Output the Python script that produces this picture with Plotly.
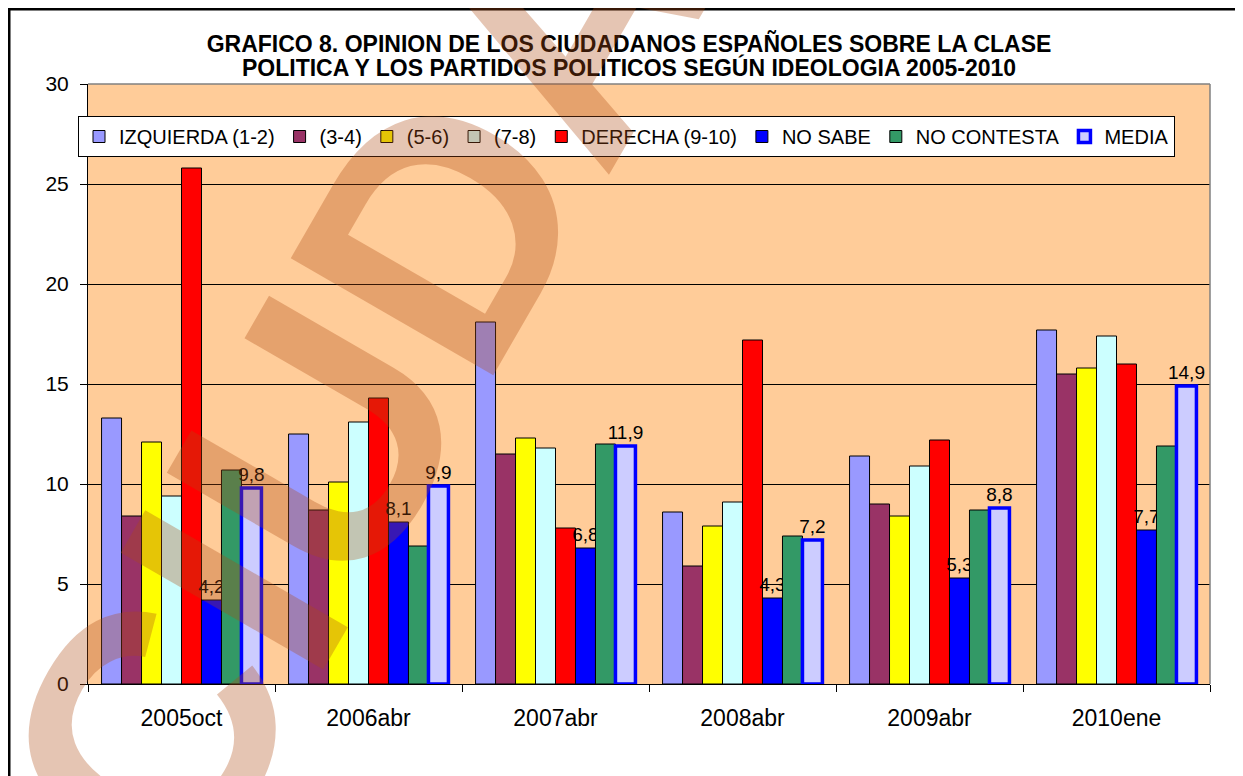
import plotly.graph_objects as go

# ---------------- data ----------------
categories = ["2005oct", "2006abr", "2007abr", "2008abr", "2009abr", "2010ene"]
izquierda = [13.3, 12.5, 18.1, 8.6, 11.4, 17.7]
s_3_4 = [8.4, 8.7, 11.5, 5.9, 9.0, 15.5]
s_5_6 = [12.1, 10.1, 12.3, 7.9, 8.4, 15.8]
s_7_8 = [9.4, 13.1, 11.8, 9.1, 10.9, 17.4]
derecha = [25.8, 14.3, 7.8, 17.2, 12.2, 16.0]
no_sabe = [4.2, 8.1, 6.8, 4.3, 5.3, 7.7]
no_contesta = [10.7, 6.9, 12.0, 7.4, 8.7, 11.9]
media = [9.8, 9.9, 11.9, 7.2, 8.8, 14.9]

series_names = ["IZQUIERDA (1-2)", "(3-4)", "(5-6)", "(7-8)", "DERECHA (9-10)",
                "NO SABE", "NO CONTESTA", "MEDIA"]
y_ticks = [0, 5, 10, 15, 20, 25, 30]

title_line1 = "GRAFICO 8. OPINION DE LOS CIUDADANOS ESPAÑOLES SOBRE LA CLASE"
title_line2 = "POLITICA Y LOS PARTIDOS POLITICOS SEGÚN IDEOLOGIA 2005-2010"

# ---------------- geometry (page has an 8px body margin) ----------------
FONT = "Liberation Sans, Arial, sans-serif"
OFF = 8
W, H = 1243 - OFF, 776 - OFF
PLOT_L, PLOT_R, PLOT_T, PLOT_B = 88, 1210, 84, 684   # in screenshot pixels
L, T = PLOT_L - OFF, PLOT_T - OFF
R, B = W - (PLOT_R - OFF), H - (PLOT_B - OFF)
PW, PH = PLOT_R - PLOT_L, PLOT_B - PLOT_T


def px_x(px):
    """screenshot x pixel -> paper fraction"""
    return (px - PLOT_L) / PW


def px_y(py):
    """screenshot y pixel -> paper fraction"""
    return (PLOT_B - py) / PH


styles = [
    dict(color="#9999FF", line=dict(color="black", width=1)),
    dict(color="#993366", line=dict(color="black", width=1)),
    dict(color="#FFFF00", line=dict(color="black", width=1)),
    dict(color="#CCFFFF", line=dict(color="black", width=1)),
    dict(color="#FF0000", line=dict(color="black", width=1)),
    dict(color="#0000FF", line=dict(color="black", width=1)),
    dict(color="#339966", line=dict(color="black", width=1)),
    dict(color="#CCCCFF", line=dict(color="#0000FF", width=3.5)),
]
all_values = [izquierda, s_3_4, s_5_6, s_7_8, derecha, no_sabe, no_contesta, media]
labelled = {"NO SABE", "MEDIA"}

fig = go.Figure()
for name, vals, st in zip(series_names, all_values, styles):
    kw = {}
    if name in labelled:
        kw = dict(texttemplate="%{y:.1f}", textposition="outside",
                  textfont=dict(family=FONT, size=19, color="black"),
                  constraintext="none", cliponaxis=False)
    fig.add_trace(go.Bar(name=name, x=categories, y=vals, marker=st, **kw))

title_font = dict(family=FONT, size=23, color="black")
fig.update_layout(
    width=W, height=H,
    margin=dict(l=L, r=R, t=T, b=B, autoexpand=False),
    paper_bgcolor="white",
    plot_bgcolor="#FFCC99",
    barmode="group",
    bargap=0.145,
    bargroupgap=0,
    separators=",.",
    font=dict(family=FONT, color="black"),
    title=dict(text="<b>" + title_line1 + "</b>", x=px_x(629), xref="paper",
               xanchor="center", y=1 - (43.5 - OFF) / H, yref="container", yanchor="middle",
               font=title_font),
    legend=dict(orientation="h", x=px_x(626.5), xanchor="center", y=px_y(116), yanchor="top",
                bgcolor="white", bordercolor="black", borderwidth=1,
                font=dict(family=FONT, size=20, color="black"),
                itemwidth=30, traceorder="normal"),
    showlegend=True,
)

fig.add_annotation(text="<b>" + title_line2 + "</b>", xref="paper", yref="paper",
                   x=px_x(629), y=px_y(67), xanchor="center", yanchor="middle",
                   showarrow=False, font=title_font)

fig.update_xaxes(
    type="category", showline=True, linecolor="black", linewidth=1,
    ticks="outside", ticklen=7, tickcolor="black", tickson="boundaries",
    tickfont=dict(family=FONT, size=23, color="black"),
    ticklabelstandoff=13, showgrid=False, zeroline=False,
)
fig.update_yaxes(
    range=[0, 30], tickvals=y_ticks, showline=True, linecolor="black", linewidth=1,
    ticks="outside", ticklen=7, tickcolor="black",
    tickfont=dict(family=FONT, size=21, color="black"),
    ticklabelstandoff=7,
    showgrid=True, gridcolor="black", gridwidth=1, zeroline=False,
)

# plot-area border (top/right in gray) and outer frame
fig.add_shape(type="line", xref="paper", yref="paper", x0=0, x1=1, y0=1, y1=1,
              line=dict(color="#808080", width=1.5))
fig.add_shape(type="line", xref="paper", yref="paper", x0=1, x1=1, y0=0, y1=1,
              line=dict(color="#808080", width=1.5))
fig.add_shape(type="rect", xref="paper", yref="paper",
              x0=px_x(OFF + 1.25), x1=px_x(1290), y0=px_y(820), y1=px_y(OFF + 1.25),
              line=dict(color="black", width=2.5), fillcolor="rgba(0,0,0,0)", layer="above")

# watermark
fig.add_annotation(text="<b>CIUDA</b>", xref="paper", yref="paper",
                   x=px_x(356), y=px_y(377), xanchor="center", yanchor="middle",
                   showarrow=False, textangle=-60,
                   font=dict(family=FONT, size=340, color="rgba(175,75,20,0.32)"))

fig.write_html("out.html")
